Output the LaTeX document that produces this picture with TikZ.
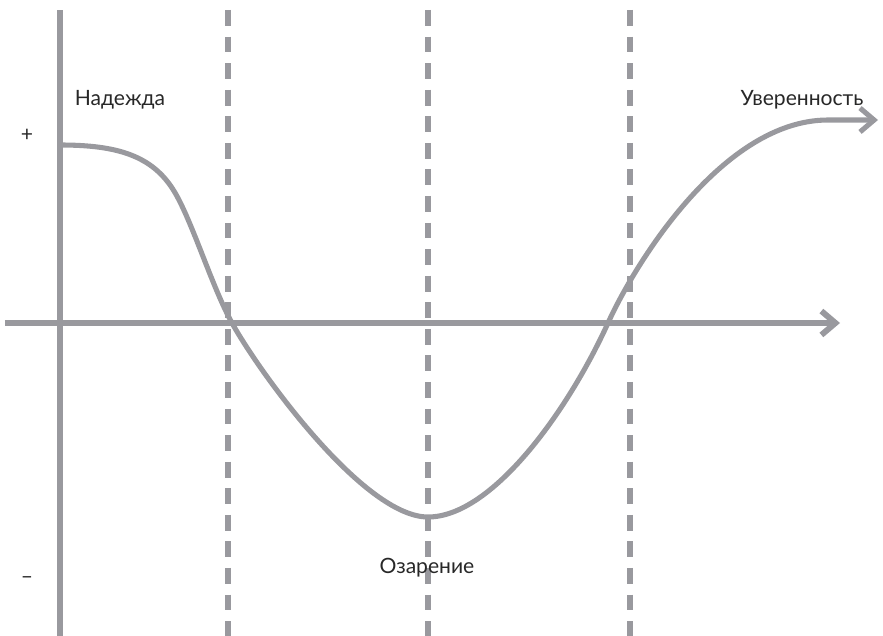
\documentclass[tikz,border=0pt]{standalone}
\usepackage{fontspec}
\setmainfont{Lato}
\usetikzlibrary{arrows.meta}
\definecolor{axisgray}{RGB}{153,153,158}
\definecolor{textdark}{RGB}{40,40,40}
\tikzset{
  axis/.style={line width=4.2pt, draw=axisgray},
  stage/.style={line width=3.9pt, draw=axisgray, dash pattern=on 11.3pt off 7.6pt},
  wave/.style={line width=3.6pt, draw=axisgray},
  tag/.style={text=textdark, font=\fontsize{15}{18}\selectfont},
  barb/.style={-{Straight Barb[length=10pt,width=17pt]}},
}
\begin{document}
\begin{tikzpicture}
\useasboundingbox (-1.5,-7.825) rectangle (20.575,8.075);
\coordinate (top) at (0,7.825);
\coordinate (bottom) at (0,-7.9);
\coordinate (left) at (-1.375,0);
\coordinate (right) at (19.5,0);
\coordinate (start) at (0,4.45);
\coordinate (low) at (9.2,-4.85);
\coordinate (end) at (20.45,5.075);
\foreach \x in {4.2, 9.2, 14.25}
  \draw[stage] (\x,7.825) -- (\x,-7.9);
\draw[axis] (bottom) -- (top);
\draw[axis, barb] (left) -- (right);
\draw[wave, barb] (start) .. controls (1.4,4.45) and (2.3,4.2) .. (2.85,3.3)
  .. controls (3.3,2.56) and (3.8,0.9) .. (4.3,0)
  .. controls (5.0,-1.26) and (7.6,-4.85) .. (low)
  .. controls (10.8,-4.85) and (12.7,-2.2) .. (13.7,0)
  .. controls (14.4,1.54) and (16.6,5.075) .. (19.2,5.075) -- (end);
\node[tag] (hope) at (1.5,5.575) {Надежда};
\node[tag] (confidence) at (18.55,5.575) {Уверенность};
\node[tag] (insight) at (9.175,-6.125) {Озарение};
\node[tag] (plus) at (-0.825,4.7) {+};
\node[tag] (minus) at (-0.825,-6.425) {–};
\end{tikzpicture}
\end{document}
